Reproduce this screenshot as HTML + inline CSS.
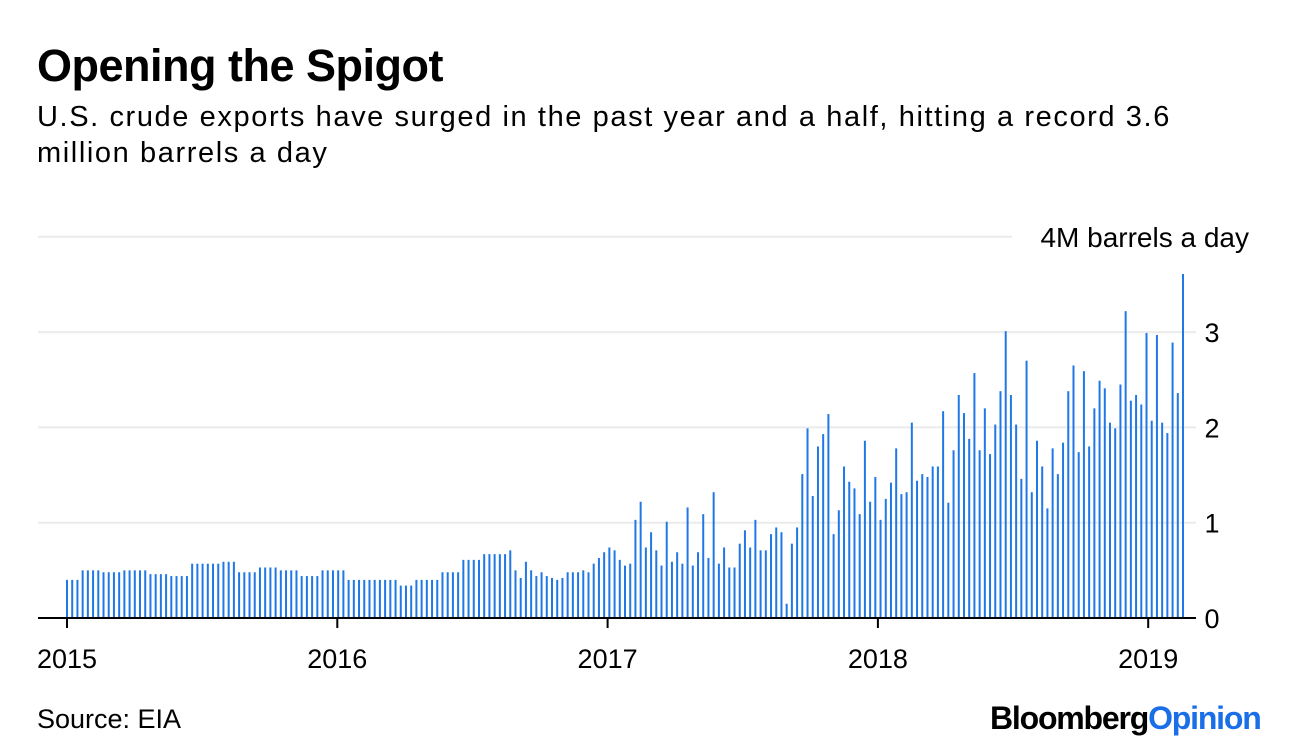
<!DOCTYPE html>
<html><head><meta charset="utf-8"><style>
body{margin:0;background:#fff;font-family:"Liberation Sans",sans-serif;}
#wrap{position:relative;width:1296px;height:752px;overflow:hidden;}
.t{position:absolute;white-space:nowrap;color:#000;}
</style></head><body><div id="wrap">
<div class="t" style="left:37px;top:40px;font-size:45px;font-weight:bold;letter-spacing:-0.5px">Opening the Spigot</div>
<div class="t" style="left:37px;top:99px;font-size:29px;line-height:36px;letter-spacing:1.6px">U.S. crude exports have surged in the past year and a half, hitting a record 3.6<br>million barrels a day</div>
<svg id="chart" width="1296" height="752" style="position:absolute;left:0;top:0"></svg>
<div class="t" style="left:37px;top:704px;font-size:27px">Source: EIA</div>
<div class="t" style="left:990px;top:700px;font-size:32px;font-weight:bold;letter-spacing:-1.2px">Bloomberg<span style="color:#1a6fe8">Opinion</span></div>
</div>
<script>
const values=[0.40,0.40,0.40,0.50,0.50,0.50,0.50,0.48,0.48,0.48,0.48,0.50,0.50,0.50,0.50,0.50,0.46,0.46,0.46,0.46,0.44,0.44,0.44,0.44,0.57,0.57,0.57,0.57,0.57,0.57,0.59,0.59,0.59,0.48,0.48,0.48,0.48,0.53,0.53,0.53,0.53,0.50,0.50,0.50,0.50,0.44,0.44,0.44,0.44,0.50,0.50,
0.50,0.50,0.50,0.40,0.40,0.40,0.40,0.40,0.40,0.40,0.40,0.40,0.40,0.34,0.34,0.34,0.40,0.40,0.40,0.40,0.40,0.48,0.48,0.48,0.48,0.61,0.61,0.61,0.61,0.67,0.67,0.67,0.67,0.67,0.71,0.50,0.42,0.59,0.50,0.44,0.48,0.44,0.42,0.40,0.42,0.48,0.48,0.48,0.50,0.48,0.57,
0.63,0.69,0.74,0.71,0.61,0.55,0.57,1.03,1.22,0.74,0.90,0.71,0.55,1.01,0.59,0.69,0.57,1.16,0.55,0.69,1.09,0.63,1.32,0.57,0.74,0.53,0.53,0.78,0.92,0.74,1.03,0.71,0.71,0.88,0.95,0.90,0.15,0.78,0.95,1.51,1.99,1.28,1.80,1.93,2.14,0.88,1.13,1.59,1.43,1.36,1.09,1.86,1.22,
1.48,1.03,1.25,1.42,1.78,1.30,1.32,2.05,1.44,1.51,1.48,1.59,1.59,2.17,1.21,1.76,2.34,2.15,1.88,2.57,1.76,2.20,1.72,2.03,2.38,3.01,2.34,2.03,1.46,2.70,1.32,1.86,1.59,1.15,1.78,1.51,1.84,2.38,2.65,1.74,2.59,1.80,2.20,2.49,2.41,2.05,1.99,2.45,3.22,2.28,2.34,2.24,2.99,2.07,2.97,2.05,1.94,2.89,2.36,3.61];
const yTicks=[0,1,2,3,4];
const yearLabels=["2015","2016","2017","2018","2019"];
const NS="http://www.w3.org/2000/svg";
const svg=document.getElementById('chart');
const y0=618,yUnit=95.3,x0=67,yearW=270.3,weekW=5.215;
function yS(v){return y0-v*yUnit;}
function xYear(i){return x0+i*yearW;}
function xWeek(i){return x0+i*weekW;}
function mk(t,a){const e=document.createElementNS(NS,t);for(const k in a)e.setAttribute(k,a[k]);svg.appendChild(e);return e;}
yTicks.forEach(v=>{
 const t=mk('text',{x:v===4?1249:1212,y:yS(v)+10,'font-size':v===4?28:27,'text-anchor':v===4?'end':'middle','font-family':'Liberation Sans, sans-serif'});
 t.textContent=v===4?'4M barrels a day':String(v);
 
 
 if(v===0)return;
 const g=mk('line',{x1:38,x2:v===4?1012:1196,y1:yS(v),y2:yS(v),stroke:'#ebebeb','stroke-width':2});
 
 
});
values.forEach((v,i)=>{
 const x=xWeek(i);
 const b=mk('rect',{x:x-1,y:yS(v),width:2,height:v*yUnit,fill:'#1f78e6'});
 
 
});
const ax=mk('line',{x1:38,x2:1196,y1:y0,y2:y0,stroke:'#000','stroke-width':2});


yearLabels.forEach((l,i)=>{
 const x=xYear(i);
 const tk=mk('line',{x1:x,x2:x,y1:y0,y2:y0+10,stroke:'#000','stroke-width':2});
 
 
 const t=mk('text',{x:x,y:668,'font-size':27,'text-anchor':'middle','font-family':'Liberation Sans, sans-serif'});
 t.textContent=l;
 
 
});
</script></body></html>
